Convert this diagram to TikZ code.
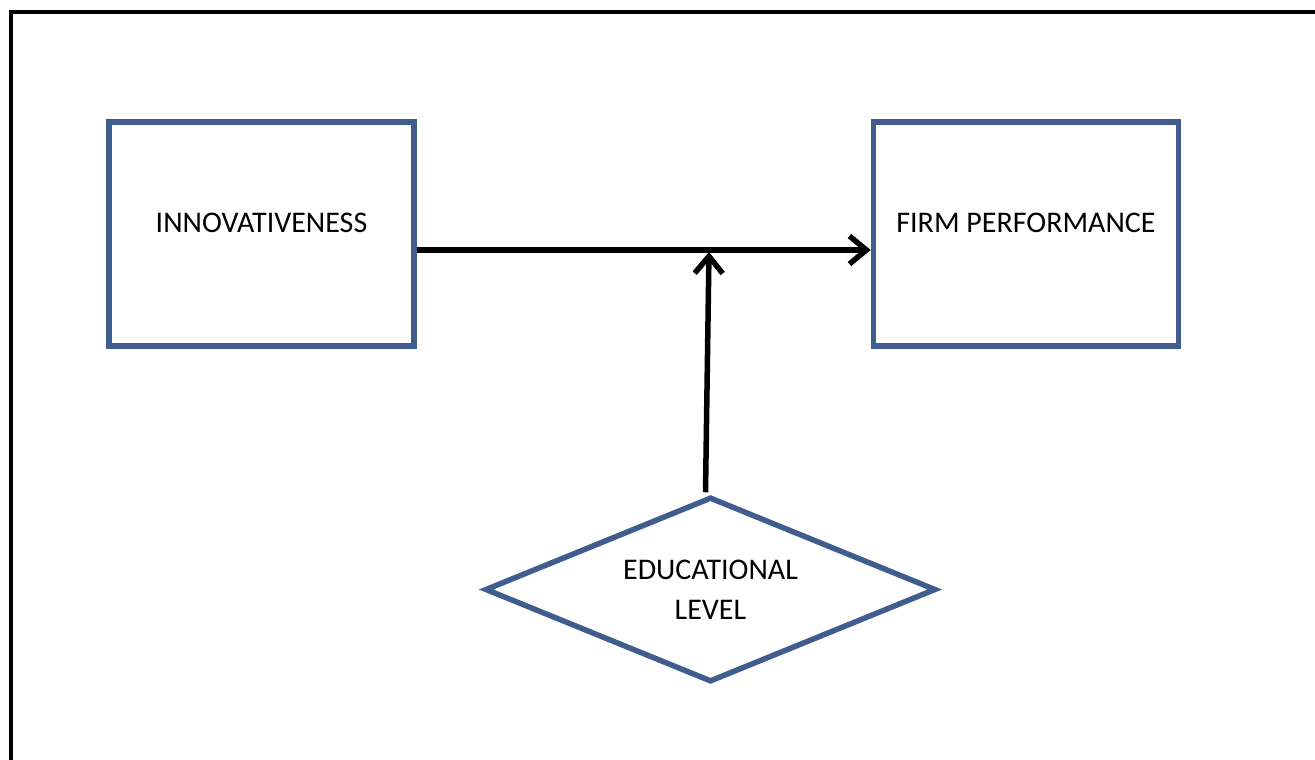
\documentclass[tikz,border=0pt]{standalone}
\usepackage{fontspec}
\setmainfont{Carlito}
\usetikzlibrary{arrows.meta,shapes.geometric}
\definecolor{boxblue}{HTML}{3F5E8D}
\tikzset{
  varbox/.style={draw=boxblue, line width=5.5pt, minimum width=305pt, minimum height=224pt, inner sep=0pt},
  boxtext/.style={font=\fontsize{30}{36}\selectfont, yshift=11pt},
  moddia/.style={draw=boxblue, line width=5.5pt, diamond, aspect=2.4, minimum width=451pt, minimum height=185pt, inner sep=0pt, align=center, font=\fontsize{30}{40}\selectfont},
  link/.style={line width=5.5pt, -{Straight Barb[length=17pt,width=28pt,line width=5.5pt]}},
}
\begin{document}
\begin{tikzpicture}[x=1pt,y=-1pt]
\useasboundingbox (0,0) rectangle (1315,760);
\draw[line width=4pt] (11,760) -- (11,12) -- (1316,12);
\node[varbox, label={[boxtext]center:INNOVATIVENESS}] (innov) at (261.5,234) {};
\node[varbox, label={[boxtext]center:FIRM PERFORMANCE}] (perf) at (1026,234) {};
\node[moddia] (edu) at (710.5,589.5) {\raisebox{-4pt}{EDUCATIONAL}\\\raisebox{-4pt}{LEVEL}};
\coordinate (mid) at (709,252);
\draw[link] ([yshift=-16pt]innov.east) -- ([yshift=-16pt]perf.west);
\draw[link] ([xshift=-5pt,yshift=2pt]edu.north) -- (mid);
\end{tikzpicture}
\end{document}
